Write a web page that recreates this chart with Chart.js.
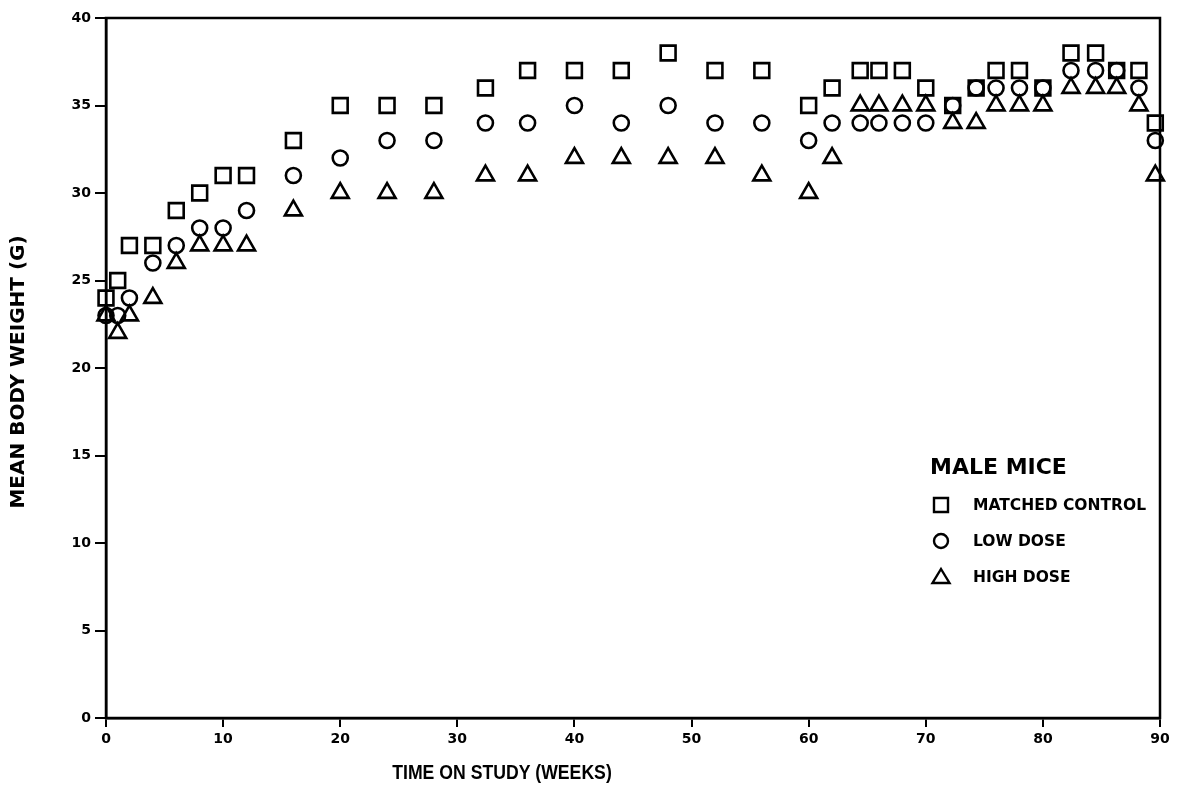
<!DOCTYPE html>
<html>
<head>
<meta charset="utf-8">
<script src="https://cdn.jsdelivr.net/npm/chart.js@4.4.1/dist/chart.umd.min.js"></script>
<style>
  html, body { margin: 0; padding: 0; background: #fff; }
</style>
</head>
<body>
<canvas id="chart" width="1185" height="786"></canvas>
<script>
// weeks on study (x) and mean body weight in grams (y)
const WEEKS = [0, 1, 2, 4, 6, 8, 10, 12, 16, 20, 24, 28, 32.4, 36, 40, 44, 48, 52, 56,
  60, 62, 64.4, 66, 68, 70, 72.3, 74.3, 76, 78, 80, 82.4, 84.5, 86.3, 88.2, 89.6];
const CONTROL = [24, 25, 27, 27, 29, 30, 31, 31, 33, 35, 35, 35, 36, 37, 37, 37, 38, 37, 37,
  35, 36, 37, 37, 37, 36, 35, 36, 37, 37, 36, 38, 38, 37, 37, 34];
const LOW_DOSE = [23, 23, 24, 26, 27, 28, 28, 29, 31, 32, 33, 33, 34, 34, 35, 34, 35, 34, 34,
  33, 34, 34, 34, 34, 34, 35, 36, 36, 36, 36, 37, 37, 37, 36, 33];
const HIGH_DOSE = [23, 22, 23, 24, 26, 27, 27, 27, 29, 30, 30, 30, 31, 31, 32, 32, 32, 32, 31,
  30, 32, 35, 35, 35, 35, 34, 34, 35, 35, 35, 36, 36, 36, 35, 31];

const SERIES_LABELS = ['MATCHED CONTROL', 'LOW DOSE', 'HIGH DOSE'];
const LEGEND_TITLE = 'MALE MICE';
const X_TITLE = 'TIME ON STUDY (WEEKS)';
const Y_TITLE = 'MEAN BODY WEIGHT (G)';

const WIDE = '"DejaVu Sans", Verdana, sans-serif';
const NARROW = '"Liberation Sans", Arial, sans-serif';

const toPoints = ys => ys.map((y, i) => ({ x: WEEKS[i], y }));

function mkDataset(label, ys, style, radius) {
  return {
    label,
    data: toPoints(ys),
    clip: false,
    pointStyle: style,
    pointRadius: radius,
    pointHoverRadius: radius,
    pointBorderWidth: 2.6,
    pointBorderColor: '#000',
    pointBackgroundColor: 'rgba(0,0,0,0)',
    showLine: false,
  };
}

// small hand-drawn markers for the legend box
function drawMarker(ctx, style, x, y) {
  ctx.beginPath();
  if (style === 'rect') {
    ctx.rect(x - 7, y - 7, 14, 14);
  } else if (style === 'circle') {
    ctx.arc(x, y, 7, 0, Math.PI * 2);
  } else {
    ctx.moveTo(x, y - 8);
    ctx.lineTo(x + 8.5, y + 6);
    ctx.lineTo(x - 8.5, y + 6);
    ctx.closePath();
  }
  ctx.stroke();
}

const frame = {
  id: 'frame',
  afterDraw(chart) {
    const { ctx, chartArea: a } = chart;
    ctx.save();
    ctx.strokeStyle = '#000';
    ctx.fillStyle = '#000';
    ctx.lineWidth = 2.5;
    ctx.strokeRect(a.left, a.top, a.right - a.left, a.bottom - a.top);

    // axis titles (x title is a condensed face in the original)
    ctx.textAlign = 'center';
    ctx.textBaseline = 'middle';
    ctx.save();
    ctx.translate(502, 773);
    ctx.scale(0.84, 1);
    ctx.font = 'bold 21px ' + NARROW;
    ctx.fillText(X_TITLE, 0, 0);
    ctx.restore();

    ctx.save();
    ctx.translate(19, 372);
    ctx.rotate(-Math.PI / 2);
    ctx.font = 'bold 20px ' + WIDE;
    ctx.fillText(Y_TITLE, 0, 0);
    ctx.restore();

    // legend
    ctx.textAlign = 'left';
    ctx.font = 'bold 22px ' + WIDE;
    ctx.fillText(LEGEND_TITLE, 930, 468);
    ctx.font = 'bold 15.5px ' + WIDE;
    ctx.lineWidth = 2.4;
    const styles = ['rect', 'circle', 'triangle'];
    SERIES_LABELS.forEach((lbl, i) => {
      const y = 505 + i * 36;
      drawMarker(ctx, styles[i], 941, y);
      ctx.fillText(lbl, 973, y + 1);
    });
    ctx.restore();
  },
};

const tickFont = { family: WIDE, size: 14, weight: 'bold' };

new Chart(document.getElementById('chart'), {
  type: 'scatter',
  data: {
    datasets: [
      mkDataset(SERIES_LABELS[0], CONTROL, 'rect', 10.5),
      mkDataset(SERIES_LABELS[1], LOW_DOSE, 'circle', 7.5),
      mkDataset(SERIES_LABELS[2], HIGH_DOSE, 'triangle', 9.8),
    ],
  },
  options: {
    responsive: false,
    animation: false,
    devicePixelRatio: 1,
    layout: { padding: { top: 18, right: 25, left: 0, bottom: 0 } },
    plugins: {
      legend: { display: false },
      tooltip: { enabled: false },
    },
    scales: {
      x: {
        type: 'linear',
        min: 0, max: 90,
        afterFit: s => { s.height = 68; },
        ticks: { stepSize: 10, color: '#000', padding: 4, font: tickFont },
        grid: { drawOnChartArea: false, drawTicks: true, tickLength: 9, color: '#000', lineWidth: 2 },
        border: { display: true, color: '#000', width: 2.5 },
      },
      y: {
        min: 0, max: 40,
        afterFit: s => { s.width = 106; },
        ticks: { stepSize: 5, color: '#000', padding: 4, font: tickFont },
        grid: { drawOnChartArea: false, drawTicks: true, tickLength: 11, color: '#000', lineWidth: 2 },
        border: { display: true, color: '#000', width: 2.5 },
      },
    },
  },
  plugins: [frame],
});
</script>
</body>
</html>
